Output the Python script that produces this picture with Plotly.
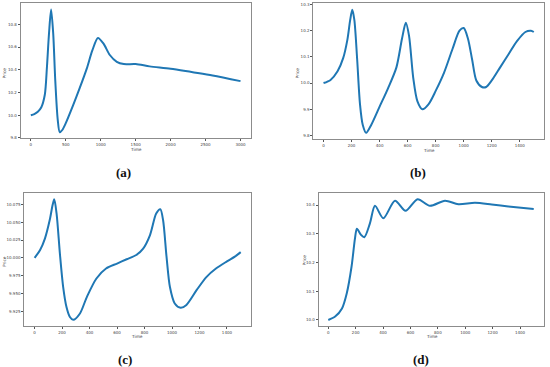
import plotly.graph_objects as go

# ---- data ----
a_time = [0, 50, 100, 150, 200, 230, 260, 290, 320, 350, 385, 414, 450, 500, 600, 700, 800, 880, 960, 1040, 1130, 1230, 1330, 1500, 1700, 2000, 2300, 2600, 3000]
a_price = [10.0, 10.01, 10.03, 10.07, 10.18, 10.42, 10.72, 10.93, 10.72, 10.3, 9.96, 9.85, 9.87, 9.93, 10.08, 10.24, 10.41, 10.57, 10.68, 10.63, 10.53, 10.47, 10.45, 10.45, 10.43, 10.41, 10.38, 10.35, 10.30]

b_time = [0, 50, 100, 140, 170, 190, 205, 220, 240, 260, 280, 304, 340, 400, 460, 520, 560, 587, 610, 640, 670, 705, 750, 800, 860, 920, 970, 1000, 1030, 1060, 1090, 1130, 1160, 1200, 1260, 1320, 1380, 1440, 1480, 1500]
b_price = [10.0, 10.012, 10.045, 10.095, 10.165, 10.24, 10.28, 10.24, 10.09, 9.92, 9.84, 9.81, 9.84, 9.91, 9.98, 10.06, 10.17, 10.23, 10.18, 10.02, 9.93, 9.90, 9.92, 9.97, 10.04, 10.13, 10.20, 10.21, 10.17, 10.09, 10.01, 9.985, 9.985, 10.01, 10.06, 10.11, 10.16, 10.195, 10.20, 10.195]

c_time = [0, 40, 75, 110, 131, 143, 160, 184, 208, 232, 257, 281, 330, 380, 450, 520, 600, 670, 740, 790, 840, 885, 915, 935, 960, 985, 1020, 1063, 1105, 1180, 1250, 1320, 1400, 1460, 1500]
c_price = [10.0, 10.011, 10.027, 10.053, 10.074, 10.082, 10.062, 10.006, 9.959, 9.931, 9.917, 9.913, 9.922, 9.945, 9.971, 9.985, 9.992, 9.998, 10.004, 10.013, 10.032, 10.062, 10.068, 10.053, 10.002, 9.959, 9.936, 9.930, 9.934, 9.955, 9.973, 9.985, 9.995, 10.002, 10.008]

d_time = [0, 50, 100, 135, 170, 195, 209, 239, 263, 304, 341, 402, 487, 564, 652, 742, 852, 950, 1071, 1193, 1315, 1500]
d_price = [10.0, 10.012, 10.04, 10.093, 10.186, 10.284, 10.317, 10.296, 10.288, 10.336, 10.397, 10.354, 10.415, 10.38, 10.42, 10.397, 10.415, 10.403, 10.408, 10.402, 10.395, 10.386]

a_yticks = [9.8, 10.0, 10.2, 10.4, 10.6, 10.8]
b_yticks = [9.8, 9.9, 10.0, 10.1, 10.2, 10.3]
c_yticks = [9.925, 9.95, 9.975, 10.0, 10.025, 10.05, 10.075]
d_yticks = [10.0, 10.1, 10.2, 10.3, 10.4]
a_xticks = [0, 500, 1000, 1500, 2000, 2500, 3000]
bcd_xticks = [0, 200, 400, 600, 800, 1000, 1200, 1400]
captions = ["(a)", "(b)", "(c)", "(d)"]
x_title = "Time"
y_title = "Price"

W, H = 550, 367
LINE = "#1f77b4"
FRAME = "#8c8c8c"
TICKF = dict(family="DejaVu Sans", size=4, color="#444444")
TITLEF = dict(family="DejaVu Sans", size=4.3, color="#444444")

panels = [
    # time, price, xticks, yticks, yfmt, xrange, yrange, (left,right,top,bottom px)
    (a_time, a_price, a_xticks, a_yticks, ".1f", [-145, 3150], [9.797, 10.985], (20.7, 251, 3.3, 138.3)),
    (b_time, b_price, bcd_xticks, b_yticks, ".1f", [-73, 1575], [9.7865, 10.3045], (313.3, 544.3, 3.3, 139)),
    (c_time, c_price, bcd_xticks, c_yticks, ".3f", [-75, 1575], [9.9044, 10.0905], (24.3, 251, 193.3, 326)),
    (d_time, d_price, bcd_xticks, d_yticks, ".1f", [-70, 1575], [9.979, 10.4407], (318.7, 544, 193.3, 326)),
]
# axis-title positions (px): Time (x, y), Price (x, y)
title_pos = [((135.7, 149.5), (4.5, 73)), ((429, 150), (297.5, 73)),
             ((136.7, 336), (4.5, 261.5)), ((431.7, 336), (303.5, 260))]

fig = go.Figure()
layout = {}
annotations = []
for i, (t, p, xt, yt, yf, xr, yr, (l, r, top, bot)) in enumerate(panels):
    n = "" if i == 0 else str(i + 1)
    fig.add_trace(go.Scatter(x=t, y=p, mode="lines", xaxis="x" + n, yaxis="y" + n,
                             line=dict(color=LINE, width=2, shape="spline", smoothing=0.8),
                             showlegend=False, hoverinfo="skip"))
    common = dict(showline=True, linecolor=FRAME, linewidth=1, mirror=True, showgrid=False,
                  zeroline=False, ticks="outside", ticklen=2, tickwidth=0.8, tickcolor="#555",
                  tickfont=TICKF, automargin=False)
    layout["xaxis" + n] = dict(domain=[l / W, r / W], anchor="y" + n, range=xr,
                               tickmode="array", tickvals=xt, ticktext=[str(v) for v in xt], **common)
    layout["yaxis" + n] = dict(domain=[1 - bot / H, 1 - top / H], anchor="x" + n, range=yr,
                               tickmode="array", tickvals=yt, ticktext=[format(v, yf) for v in yt], **common)
    (tx, ty), (px_, py) = title_pos[i]
    annotations.append(dict(text=x_title, x=tx / W, y=1 - ty / H, xref="paper", yref="paper",
                            showarrow=False, xanchor="center", yanchor="middle", borderpad=0, font=TITLEF))
    annotations.append(dict(text=y_title, x=px_ / W, y=1 - py / H, xref="paper", yref="paper", textangle=-90,
                            showarrow=False, xanchor="center", yanchor="middle", borderpad=0, font=TITLEF))

cap_pos = [(123, 172), (417.7, 172), (124.7, 359), (420.7, 359)]
for txt, (cx, cy) in zip(captions, cap_pos):
    annotations.append(dict(text="<b>" + txt + "</b>", x=cx / W, y=1 - cy / H, xref="paper", yref="paper",
                            showarrow=False, xanchor="center", yanchor="middle", borderpad=0,
                            font=dict(family="Liberation Serif", size=13, color="#111")))

fig.update_layout(width=W, height=H, margin=dict(l=0, r=0, t=0, b=0),
                  paper_bgcolor="white", plot_bgcolor="white", annotations=annotations, **layout)
fig.write_html("out.html", config={"displayModeBar": False},
               post_script="document.body.style.margin='0';document.body.style.overflow='hidden';")
